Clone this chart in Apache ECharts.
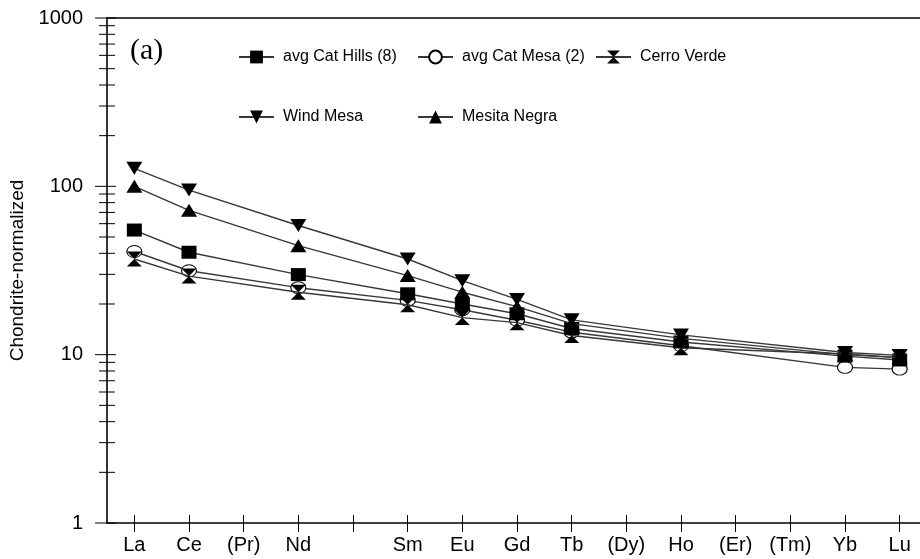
<!DOCTYPE html>
<html>
<head>
<meta charset="utf-8">
<script src="https://cdn.jsdelivr.net/npm/echarts@6/dist/echarts.min.js"></script>
<style>
html,body{margin:0;padding:0;background:#fff;}
#chart{width:920px;height:559px;}
</style>
</head>
<body>
<div id="chart"></div>
<script>
// ---- data ----
const categories = ['La','Ce','(Pr)','Nd','','Sm','Eu','Gd','Tb','(Dy)','Ho','(Er)','(Tm)','Yb','Lu'];
const catHills   = [55, 40.6, null, 29.9, null, 23.0, 20.0, 17.5, 14.3, null, 11.9, null, null, 9.8, 9.3];
const catMesa    = [41, 31.5, null, 25.0, null, 21.0, 18.5, 16.0, 13.6, null, 11.3, null, null, 8.4, 8.2];
const cerroVerde = [37, 29.3, null, 23.5, null, 19.8, 16.6, 15.5, 13.0, null, 11.0, null, null, 10.1, 9.6];
const windMesa   = [128, 95, null, 58.5, null, 37.0, 27.5, 21.3, 16.1, null, 13.1, null, null, 10.3, 9.9];
const mesitaNegra= [100, 72, null, 44.4, null, 29.5, 23.5, 19.3, 15.3, null, 12.5, null, null, 10.0, 9.6];
const seriesNames = ['avg Cat Hills (8)','avg Cat Mesa (2)','Cerro Verde','Wind Mesa','Mesita Negra'];
const yMajorTicks = [1, 10, 100, 1000];
const yMinorTicks = [2,3,4,5,6,7,8,9,20,30,40,50,60,70,80,90,200,300,400,500,600,700,800,900];

const FONT = "'Liberation Sans', Arial, sans-serif";
const LINE = '#383838';
const hourglass = 'path://M0,0 L10,0 L5,5 Z M5,5 L10,10 L0,10 Z';

function lineSeries(name, data, symbol, size, fill, z) {
  return {
    name: name, type: 'line', data: data, connectNulls: true,
    symbol: symbol, symbolSize: size, z: z,
    lineStyle: {color: LINE, width: 1.4},
    itemStyle: {color: fill, borderColor: '#000', borderWidth: fill === '#fff' ? 1 : 0},
    emphasis: {disabled: true}, animation: false
  };
}

const tickData = yMajorTicks.map(v => [0, v, 1]).concat(yMinorTicks.map(v => [0, v, 0]));

function legendAt(name, left, top) {
  return {
    data: [name], left: left, top: top, padding: 0, orient: 'horizontal',
    itemWidth: 35, itemHeight: 16, selectedMode: false,
    textStyle: {fontFamily: FONT, fontSize: 16, color: '#000', padding: [0,0,0,4]}
  };
}

const chart = echarts.init(document.getElementById('chart'), null, {renderer: 'canvas'});
chart.setOption({
  animation: false,
  backgroundColor: '#fff',
  grid: {left: 107, top: 18, width: 820, height: 505, containLabel: false, outerBoundsMode: 'none'},
  legend: [
    legendAt(seriesNames[0], 238, 49),
    legendAt(seriesNames[1], 417, 49),
    legendAt(seriesNames[2], 595, 49),
    legendAt(seriesNames[3], 238, 109),
    legendAt(seriesNames[4], 417, 109)
  ],
  graphic: [{
    type: 'text', left: 130, top: 36,
    style: {text: '(a)', font: "30px 'Liberation Serif', 'Times New Roman', serif", fill: '#000'}
  }],
  xAxis: [{
    type: 'category', data: categories, position: 'bottom', boundaryGap: true,
    axisLine: {show: true, lineStyle: {color: '#000', width: 1.6}},
    axisTick: {show: true, alignWithLabel: true, length: 9, inside: false, lineStyle: {color: '#000', width: 1}},
    axisLabel: {interval: 0, margin: 12, fontFamily: FONT, fontSize: 20, color: '#000'},
    splitLine: {show: false}
  }, {
    type: 'category', data: categories, position: 'bottom', boundaryGap: true,
    axisLine: {show: false},
    axisTick: {show: true, alignWithLabel: true, length: 8, inside: true, lineStyle: {color: '#000', width: 1}},
    axisLabel: {show: false}, splitLine: {show: false}
  }, {
    type: 'category', data: categories, position: 'top', boundaryGap: true,
    axisLine: {show: true, lineStyle: {color: '#000', width: 1.6}},
    axisTick: {show: false}, axisLabel: {show: false}, splitLine: {show: false}
  }],
  yAxis: {
    type: 'log', logBase: 10, min: 1, max: 1000,
    name: 'Chondrite-normalized', nameLocation: 'middle', nameGap: 80,
    nameTextStyle: {fontFamily: FONT, fontSize: 19, color: '#000'},
    axisLine: {show: true, lineStyle: {color: '#000', width: 1.6}},
    axisTick: {show: false},
    axisLabel: {margin: 24, fontFamily: FONT, fontSize: 20, color: '#000', formatter: v => String(v)},
    splitLine: {show: false}
  },
  series: [
    lineSeries(seriesNames[0], catHills, 'rect', [15, 13], '#000', 4),
    lineSeries(seriesNames[1], catMesa, 'circle', [15, 12], '#fff', 2),
    lineSeries(seriesNames[2], cerroVerde, hourglass, [15, 15], '#000', 3),
    Object.assign(lineSeries(seriesNames[3], windMesa, 'triangle', [16, 13], '#000', 5), {symbolRotate: 180}),
    lineSeries(seriesNames[4], mesitaNegra, 'triangle', [16, 13], '#000', 5),
    {
      type: 'custom', data: tickData, silent: true, clip: false, z: 10,
      renderItem: function (params, api) {
        const y = api.coord([0, api.value(1)])[1];
        const x0 = params.coordSys.x;
        const major = api.value(2) === 1;
        return {
          type: 'line',
          shape: {x1: x0 - (major ? 12 : 8), y1: y, x2: x0 + (major ? 9 : 8), y2: y},
          style: {stroke: '#000', lineWidth: 1}
        };
      }
    }
  ]
});
</script>
</body>
</html>
